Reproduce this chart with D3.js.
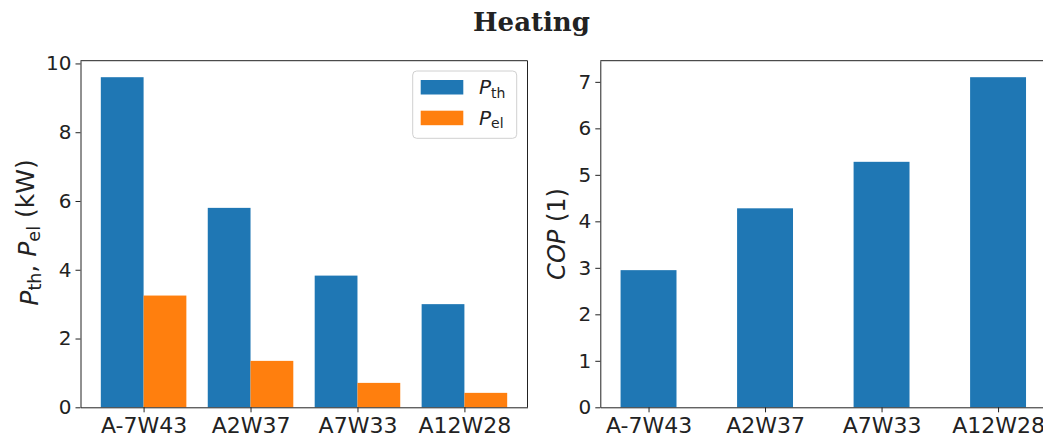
<!DOCTYPE html>
<html>
<head>
<meta charset="utf-8">
<script src="https://cdn.jsdelivr.net/npm/d3@7"></script>
<style>
  html, body { margin: 0; padding: 0; background: #fff; }
  svg { display: block; }
  text { font-family: "DejaVu Sans", sans-serif; fill: #222; }
</style>
</head>
<body>
<svg id="chart" width="1043" height="439"></svg>
<script>
const categories = ["A-7W43", "A2W37", "A7W33", "A12W28"];
const pTh = [9.6, 5.8, 3.83, 3.0];
const pEl = [3.25, 1.35, 0.71, 0.42];
const cop = [2.95, 4.28, 5.28, 7.1];
const leftTicks = [0, 2, 4, 6, 8, 10];
const rightTicks = [0, 1, 2, 3, 4, 5, 6, 7];
const titleText = "Heating";

(function () {
const blue = "#1f77b4", orange = "#ff7f0e";
const svg = d3.select("#chart");

// Title
svg.append("text")
  .attr("x", 531.5).attr("y", 31)
  .attr("text-anchor", "middle")
  .style("font-family", "'DejaVu Serif', serif")
  .style("font-weight", "bold")
  .style("font-size", "26px")
  .style("fill", "#222")
  .text(titleText);

const yTop = 60.7, yBot = 407.3;

// ---------- Left panel ----------
const xL = d3.scaleLinear().domain([-0.59, 3.59]).range([80.5, 527.5]);
const yL = d3.scaleLinear().domain([0, d3.max(pTh) * 1.05]).range([yBot, yTop]);
const bwL = 0.4;

const gL = svg.append("g");
gL.selectAll("rect.th").data(pTh).join("rect")
  .attr("x", (d, i) => xL(i - bwL))
  .attr("width", (d, i) => xL(i) - xL(i - bwL))
  .attr("y", d => yL(d))
  .attr("height", d => yL(0) - yL(d))
  .attr("fill", blue);
gL.selectAll("rect.el").data(pEl).join("rect")
  .attr("x", (d, i) => xL(i))
  .attr("width", (d, i) => xL(i + bwL) - xL(i))
  .attr("y", d => yL(d))
  .attr("height", d => yL(0) - yL(d))
  .attr("fill", orange);

const spine = (g, x1, y1, x2, y2) => g.append("line")
  .attr("x1", x1).attr("y1", y1).attr("x2", x2).attr("y2", y2)
  .attr("stroke", "#222").attr("stroke-width", 1);
spine(gL, xL.range()[0], yTop, xL.range()[1], yTop);
spine(gL, xL.range()[1], yTop, xL.range()[1], yBot);

const yAxisL = d3.axisLeft(yL).tickValues(leftTicks).tickFormat(d3.format("d")).tickSize(5).tickSizeOuter(0).tickPadding(4);
const gyL = svg.append("g").attr("transform", `translate(${xL.range()[0]},0)`).call(yAxisL);
gyL.selectAll("text").style("font-size", "20px").style("fill", "#222");

const xAxisL = d3.axisBottom(xL).tickValues(d3.range(categories.length)).tickFormat(i => categories[i]).tickSize(5).tickSizeOuter(0).tickPadding(5.5);
const gxL = svg.append("g").attr("transform", `translate(0,${yBot})`).call(xAxisL);
gxL.selectAll("text").style("font-size", "22px").style("fill", "#222");

[gyL, gxL].forEach(g => {
  g.select(".domain").attr("stroke", "#222");
  g.selectAll(".tick line").attr("stroke", "#222");
});

// y label left
const ylabL = svg.append("text")
  .attr("transform", `translate(37.5,${(yTop + yBot) / 2 - 1.5}) rotate(-90)`)
  .attr("text-anchor", "middle")
  .style("font-size", "25px");
ylabL.append("tspan").style("font-style", "italic").text("P");
ylabL.append("tspan").attr("dy", "0.22em").style("font-size", "17.5px").text("th");
ylabL.append("tspan").attr("dy", "-0.22em").text(", ");
ylabL.append("tspan").style("font-style", "italic").text("P");
ylabL.append("tspan").attr("dy", "0.22em").style("font-size", "17.5px").text("el");
ylabL.append("tspan").attr("dy", "-0.22em").text(" (kW)");

// legend
const lg = svg.append("g");
lg.append("rect").attr("x", 412.7).attr("y", 71).attr("width", 104).attr("height", 67.3)
  .attr("rx", 4).attr("fill", "#fff").attr("fill-opacity", 0.8)
  .attr("stroke", "#d0d0d0").attr("stroke-width", 1);
const legendItems = [{sub: "th", color: blue}, {sub: "el", color: orange}];
legendItems.forEach((it, k) => {
  const yy = 80 + k * 30.7;
  lg.append("rect").attr("x", 420.7).attr("y", yy).attr("width", 42.6).attr("height", 14.5).attr("fill", it.color);
  const t = lg.append("text").attr("x", 479).attr("y", yy + 14).style("font-size", "20px");
  t.append("tspan").style("font-style", "italic").text("P");
  t.append("tspan").attr("dy", "0.25em").style("font-size", "14px").text(it.sub);
});

// ---------- Right panel ----------
const xR = d3.scaleLinear().domain([-0.414, 3.414]).range([600.3, 1046.3]);
const yR = d3.scaleLinear().domain([0, d3.max(cop) * 1.05]).range([yBot, yTop]);
const bwR = 0.48;

const gR = svg.append("g");
gR.selectAll("rect").data(cop).join("rect")
  .attr("x", (d, i) => xR(i - bwR / 2))
  .attr("width", (d, i) => xR(i + bwR / 2) - xR(i - bwR / 2))
  .attr("y", d => yR(d))
  .attr("height", d => yR(0) - yR(d))
  .attr("fill", blue);
spine(gR, xR.range()[0], yTop, xR.range()[1], yTop);
spine(gR, xR.range()[1], yTop, xR.range()[1], yBot);

const yAxisR = d3.axisLeft(yR).tickValues(rightTicks).tickFormat(d3.format("d")).tickSize(5).tickSizeOuter(0).tickPadding(4);
const gyR = svg.append("g").attr("transform", `translate(${xR.range()[0]},0)`).call(yAxisR);
gyR.selectAll("text").style("font-size", "20px").style("fill", "#222");

const xAxisR = d3.axisBottom(xR).tickValues(d3.range(categories.length)).tickFormat(i => categories[i]).tickSize(5).tickSizeOuter(0).tickPadding(5.5);
const gxR = svg.append("g").attr("transform", `translate(0,${yBot})`).call(xAxisR);
gxR.selectAll("text").style("font-size", "22px").style("fill", "#222");
[gyR, gxR].forEach(g => {
  g.select(".domain").attr("stroke", "#222");
  g.selectAll(".tick line").attr("stroke", "#222");
});

const ylabR = svg.append("text")
  .attr("transform", `translate(564.5,${(yTop + yBot) / 2}) rotate(-90)`)
  .attr("text-anchor", "middle")
  .style("font-size", "24px");
ylabR.append("tspan").style("font-style", "italic").text("COP");
ylabR.append("tspan").text(" (1)");
})();
</script>
</body>
</html>
